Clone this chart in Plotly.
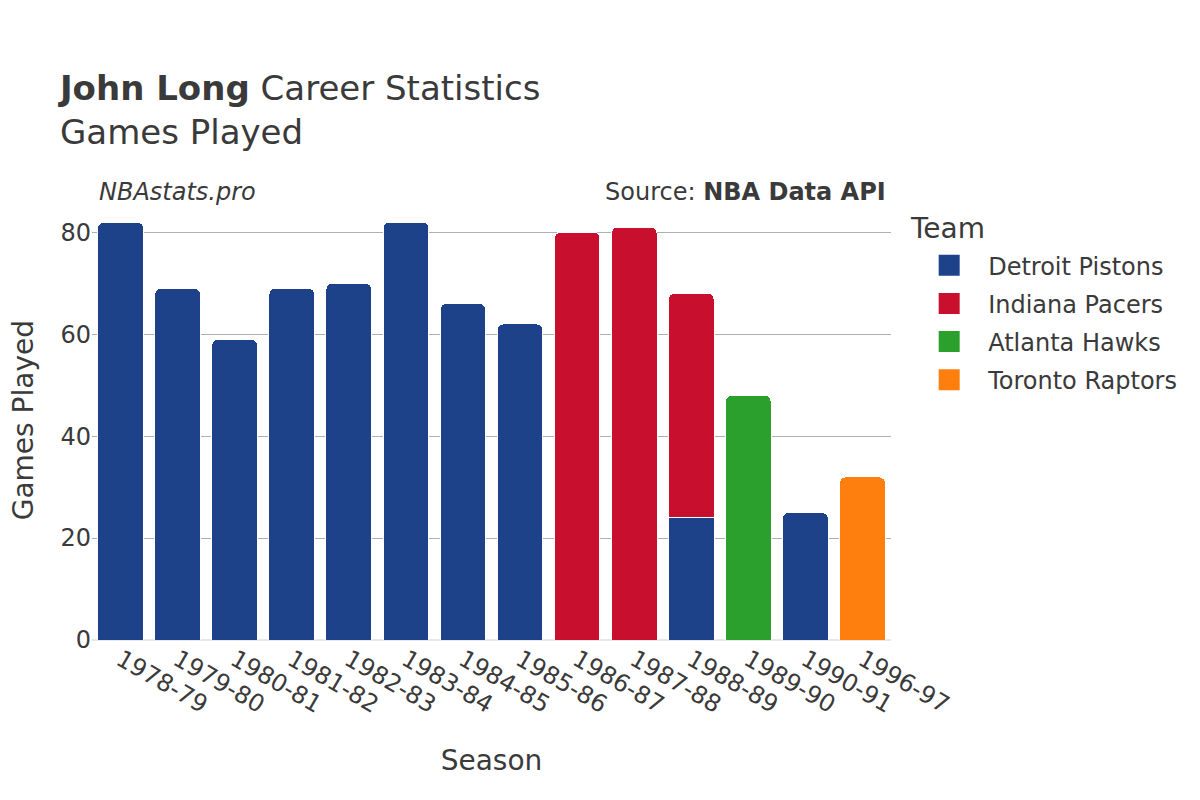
import plotly.graph_objects as go

seasons = ["1978-79", "1979-80", "1980-81", "1981-82", "1982-83", "1983-84", "1984-85",
           "1985-86", "1986-87", "1987-88", "1988-89", "1989-90", "1990-91", "1996-97"]

detroit_seasons = ["1978-79", "1979-80", "1980-81", "1981-82", "1982-83", "1983-84", "1984-85",
                   "1985-86", "1988-89", "1990-91"]
detroit_games = [82, 69, 59, 69, 70, 82, 66, 62, 24, 25]

indiana_seasons = ["1986-87", "1987-88", "1988-89"]
indiana_games = [80, 81, 44]

atlanta_seasons = ["1989-90"]
atlanta_games = [48]

toronto_seasons = ["1996-97"]
toronto_games = [32]

teams = [
    ("Detroit Pistons", detroit_seasons, detroit_games, "#1d428a"),
    ("Indiana Pacers", indiana_seasons, indiana_games, "#c8102e"),
    ("Atlanta Hawks", atlanta_seasons, atlanta_games, "#2ca02c"),
    ("Toronto Raptors", toronto_seasons, toronto_games, "#ff7f0e"),
]

fig = go.Figure()
for name, xs, ys, color in teams:
    fig.add_trace(go.Bar(
        x=xs, y=ys, name=name, legendgroup=name, showlegend=False,
        marker=dict(color=color, line=dict(color="white", width=1)),
    ))
# legend swatches
for name, xs, ys, color in teams:
    fig.add_trace(go.Scatter(
        x=[None], y=[None], name=name, legendgroup=name, mode="markers",
        marker=dict(symbol="square", size=16, color=color, line=dict(color=color, width=5)),
    ))

font_family = "DejaVu Sans"
fig.update_layout(
    barmode="stack",
    barcornerradius=6,
    width=1200, height=800,
    paper_bgcolor="white", plot_bgcolor="white",
    font=dict(family=font_family, color="#3a3a3a", size=24),
    margin=dict(l=84, r=317, t=192, b=168),
    title=dict(
        text="<b>John Long</b> Career Statistics<br>Games Played",
        x=0.0433, xanchor="left", y=0.885, yanchor="top",
        font=dict(size=34, color="#3a3a3a"),
    ),
    xaxis=dict(
        title=dict(text="Season", font=dict(size=28), standoff=32),
        categoryorder="array", categoryarray=seasons,
        tickangle=30, tickfont=dict(size=24),
        showgrid=False, automargin=False,
    ),
    yaxis=dict(
        tickfont=dict(size=24),
        showgrid=True, gridcolor="#b0b0b0", gridwidth=1,
        zeroline=True, zerolinecolor="#e8e8e8", zerolinewidth=2,
        dtick=20, automargin=False,
    ),
    legend=dict(
        font=dict(size=24),
        traceorder="grouped",
        x=1.024, xanchor="left", y=0.902, yanchor="top",
        itemsizing="trace", itemwidth=68, tracegroupgap=4,
    ),
    bargap=0.2,
    annotations=[
        dict(text="Games Played", xref="paper", yref="paper", x=-0.086, y=0.5,
             xanchor="center", yanchor="middle", textangle=-90, showarrow=False,
             font=dict(size=28, color="#3a3a3a")),
        dict(text="Team", xref="paper", yref="paper", x=1.021, y=0.936,
             xanchor="left", yanchor="middle", showarrow=False,
             font=dict(size=28, color="#3a3a3a")),
        dict(text="<i>NBAstats.pro</i>", xref="paper", yref="paper", x=0.006, y=1.018,
             xanchor="left", yanchor="middle", showarrow=False, font=dict(size=24, color="#3a3a3a")),
        dict(text="Source: <b>NBA Data API</b>", xref="paper", yref="paper", x=0.996, y=1.018,
             xanchor="right", yanchor="middle", showarrow=False, font=dict(size=24, color="#3a3a3a")),
    ],
)

fig.write_html("out.html")
